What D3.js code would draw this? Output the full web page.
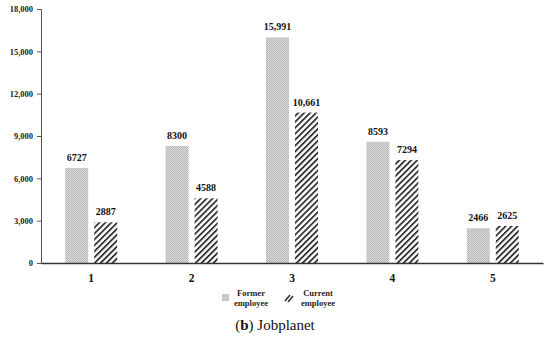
<!DOCTYPE html>
<html lang="en">
  <head>
    <meta charset="utf-8">
    <title>Jobplanet</title>
    <style>
      body { margin: 0; background: #fff; }
    </style>
  </head>
  <body>
    <svg id="canvas"></svg>
    <script src="https://cdn.jsdelivr.net/npm/d3@7"></script>
    <script>
      const width = 550;
      const height = 342;

      const categories = ["1", "2", "3", "4", "5"];
      const seriesNames = ["Former employee", "Current employee"];
      const former = [6727, 8300, 15991, 8593, 2466];
      const current = [2887, 4588, 10661, 7294, 2625];
      const formerLabels = ["6727", "8300", "15,991", "8593", "2466"];
      const currentLabels = ["2887", "4588", "10,661", "7294", "2625"];
      const yTicks = [0, 3000, 6000, 9000, 12000, 15000, 18000];

      const serif = "'Liberation Serif', 'Times New Roman', serif";

      const svg = d3.select("#canvas")
        .attr("width", width)
        .attr("height", height)
        .attr("viewBox", [0, 0, width, height]);

      // patterns
      const defs = svg.append("defs");
      let checker = defs.append("pattern")
        .attr("id", "checker")
        .attr("patternUnits", "userSpaceOnUse")
        .attr("width", 2)
        .attr("height", 2);
      checker.append("rect").attr("width", 2).attr("height", 2).attr("fill", "#dadada");
      checker.append("rect").attr("width", 1).attr("height", 1).attr("fill", "#b8b8b8");
      checker.append("rect").attr("x", 1).attr("y", 1).attr("width", 1).attr("height", 1).attr("fill", "#b8b8b8");

      let hatch = defs.append("pattern")
        .attr("id", "hatch")
        .attr("patternUnits", "userSpaceOnUse")
        .attr("width", 4.2)
        .attr("height", 4.2)
        .attr("patternTransform", "rotate(45)");
      hatch.append("rect").attr("width", 4.2).attr("height", 4.2).attr("fill", "#fff");
      hatch.append("rect").attr("width", 1.8).attr("height", 4.2).attr("fill", "#333");

      const x = d3.scaleBand()
        .domain(categories)
        .range([41, 543]);

      const x1 = d3.scaleBand()
        .domain(seriesNames)
        .range([-26, 26])
        .paddingInner(0.207);

      const y = d3.scaleLinear()
        .domain([0, 18000])
        .range([263, 9]);

      // y axis
      const yAxis = svg.append("g")
        .attr("transform", "translate(41,0)")
        .call(d3.axisLeft(y).tickValues(yTicks).tickSize(4).tickPadding(4)
          .tickFormat(d => d === 0 ? "0" : d3.format(",")(d)));
      yAxis.select(".domain").attr("stroke", "#555").attr("stroke-width", 1);
      yAxis.selectAll(".tick line").attr("stroke", "#555");
      yAxis.selectAll("text")
        .attr("font-family", serif)
        .attr("font-size", 8.5)
        .attr("font-weight", "bold")
        .attr("fill", "#222");

      // bars
      const fills = ["url(#checker)", "url(#hatch)"];
      const series = [former, current];
      const labels = [formerLabels, currentLabels];

      series.forEach((vals, si) => {
        const g = svg.append("g");
        g.selectAll("rect")
          .data(categories)
          .join("rect")
          .attr("x", (c) => x(c) + x.bandwidth() / 2 + x1(seriesNames[si]))
          .attr("y", (c, i) => y(vals[i]))
          .attr("width", x1.bandwidth())
          .attr("height", (c, i) => y(0) - y(vals[i]))
          .attr("fill", fills[si]);

        g.selectAll("text")
          .data(categories)
          .join("text")
          .attr("x", (c) => x(c) + x.bandwidth() / 2 + x1(seriesNames[si]) + x1.bandwidth() / 2)
          .attr("y", (c, i) => y(vals[i]) - 7)
          .attr("text-anchor", "middle")
          .attr("font-family", serif)
          .attr("font-size", 10)
          .attr("font-weight", "bold")
          .attr("fill", "#111")
          .text((c, i) => labels[si][i]);
      });

      // x axis
      const xAxis = svg.append("g")
        .attr("transform", "translate(0,263)")
        .call(d3.axisBottom(x).tickSize(0).tickPadding(11));
      xAxis.select(".domain").attr("stroke", "#333").attr("stroke-width", 1.5);
      xAxis.selectAll("text")
        .attr("font-family", serif)
        .attr("font-size", 11.5)
        .attr("font-weight", "bold")
        .attr("fill", "#111");

      // legend
      const legend = svg.append("g");
      const legendItems = [
        { fill: "url(#checker)", sx: 222, tx: 251, lines: ["Former", "employee"] },
        { fill: "url(#hatch)", sx: 285, tx: 318, lines: ["Current", "employee"] }
      ];
      legendItems.forEach((it, i) => {
        if (i === 0) {
          legend.append("rect")
            .attr("x", it.sx).attr("y", 294)
            .attr("width", 7).attr("height", 7)
            .attr("fill", it.fill);
        } else {
          legend.append("line").attr("x1", it.sx).attr("y1", 301).attr("x2", it.sx + 5).attr("y2", 295)
            .attr("stroke", "#333").attr("stroke-width", 1.6);
          legend.append("line").attr("x1", it.sx + 3).attr("y1", 302).attr("x2", it.sx + 8).attr("y2", 296)
            .attr("stroke", "#333").attr("stroke-width", 1.6);
        }
        it.lines.forEach((ln, j) => {
          legend.append("text")
            .attr("x", it.tx)
            .attr("y", 296 + j * 10)
            .attr("text-anchor", "middle")
            .attr("font-family", serif)
            .attr("font-size", 8.5)
            .attr("font-weight", "bold")
            .attr("fill", "#222")
            .text(ln);
        });
      });

      // caption
      const cap = svg.append("text")
        .attr("x", 275)
        .attr("y", 330)
        .attr("text-anchor", "middle")
        .attr("font-family", serif)
        .attr("font-size", 15)
        .attr("fill", "#111");
      cap.append("tspan").text("(");
      cap.append("tspan").attr("font-weight", "bold").text("b");
      cap.append("tspan").text(") Jobplanet");
    </script>
  </body>
</html>
